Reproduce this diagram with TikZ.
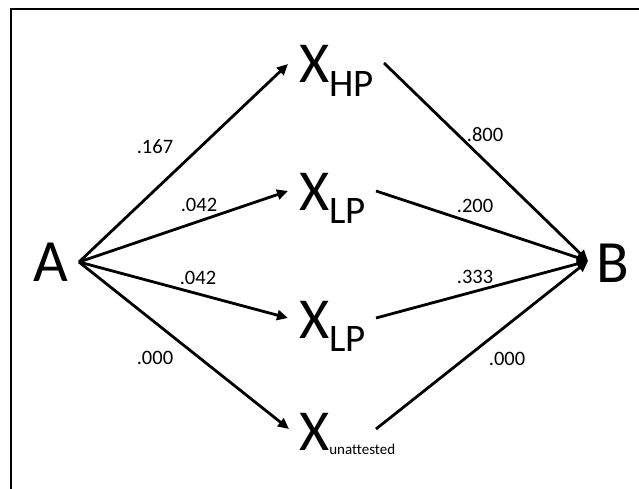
\documentclass[tikz,border=0pt]{standalone}
\usepackage{fontspec}
\setmainfont{Carlito}[Ligatures=NoCommon]
\usetikzlibrary{arrows.meta}
\begin{document}
\begin{tikzpicture}[x=1pt,y=-1pt,
  conn/.style={line width=2.8pt, -{Triangle[length=11pt,width=10pt]}},
  big/.style={inner sep=0pt, anchor=base, font=\fontsize{60}{60}\selectfont},
  xnode/.style={inner sep=0pt, anchor=base west, font=\fontsize{58}{58}\selectfont},
  prob/.style={inner sep=0pt, font=\fontsize{20.5}{20.5}\selectfont}]
\useasboundingbox (0,0) rectangle (639,489);
\fill[white] (0,0) rectangle (639,489);
\draw[line width=2pt] (11,500) -- (11,9) -- (650,9);

\node[big] (A) at (51,281) {A};
\node[big] (B) at (613,282) {B};
\node[xnode] (XHP) at (299,83) {X\raisebox{-14pt}{\fontsize{39}{39}\selectfont HP}};
\node[xnode] (XLPa) at (299,210) {X\raisebox{-13pt}{\fontsize{39}{39}\selectfont LP}};
\node[xnode] (XLPb) at (299,338) {X\raisebox{-13pt}{\fontsize{39}{39}\selectfont LP}};
\node[xnode] (XUN) at (299,450) {X\raisebox{-4pt}{\fontsize{15}{15}\selectfont unattested}};

\coordinate (Aout) at (79,262);
\coordinate (Bin) at (588,261);
\coordinate (HPin) at (288,64);
\coordinate (LPain) at (288,191);
\coordinate (LPbin) at (288,318);
\coordinate (UNin) at (289,429);
\coordinate (HPout) at (384,63);
\coordinate (LPaout) at (376,191);
\coordinate (LPbout) at (376,318);
\coordinate (UNout) at (376,429);

\draw[conn] (Aout) -- (HPin);
\draw[conn] (Aout) -- (LPain);
\draw[conn] (Aout) -- (LPbin);
\draw[conn] (Aout) -- (UNin);
\draw[conn] (HPout) -- (Bin);
\draw[conn] (LPaout) -- (Bin);
\draw[conn] (LPbout) -- (Bin);
\draw[conn] (UNout) -- (Bin);

\node[prob] (p1) at (155,147) {.167};
\node[prob] (p2) at (199,205) {.042};
\node[prob] (p3) at (198,278) {.042};
\node[prob] (p4) at (155,358) {.000};
\node[prob] (p5) at (485,135) {.800};
\node[prob] (p6) at (475,206) {.200};
\node[prob] (p7) at (475,277) {.333};
\node[prob] (p8) at (507,359) {.000};
\end{tikzpicture}
\end{document}
